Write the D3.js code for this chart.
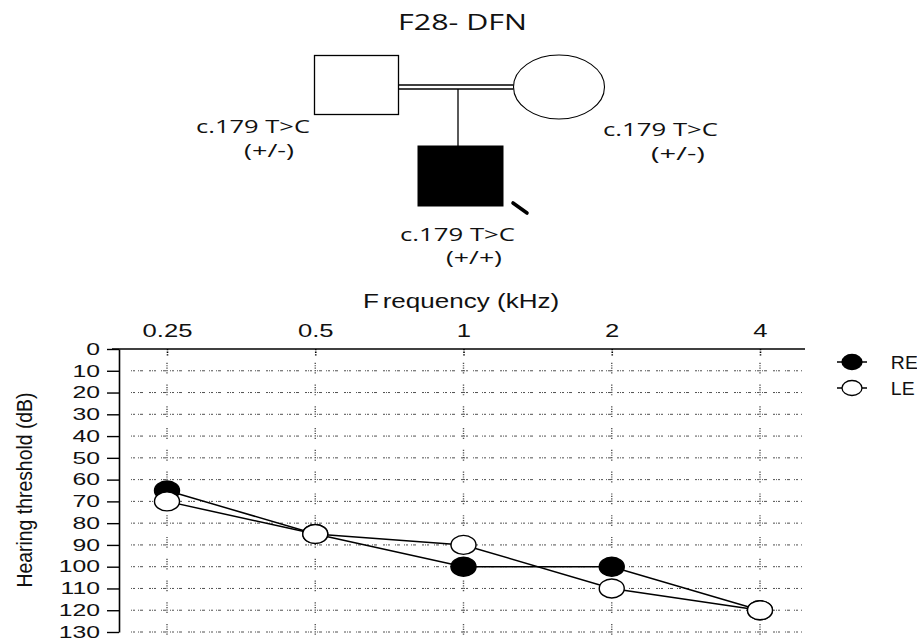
<!DOCTYPE html>
<html>
<head>
<meta charset="utf-8">
<script src="https://cdn.jsdelivr.net/npm/d3@7"></script>
<style>
  body { margin: 0; background: #fff; }
  svg { display: block; }
</style>
</head>
<body>
<svg id="canvas" width="917" height="639"></svg>
<script>
// chart values
let freqs = [0.25, 0.5, 1, 2, 4];
let freqLabels = ["0.25", "0.5", "1", "2", "4"];
let dbTicks = [0, 10, 20, 30, 40, 50, 60, 70, 80, 90, 100, 110, 120, 130];
let rightEar = [65, 85, 100, 100, 120];   // RE, filled
let leftEar = [70, 85, 90, 110, 120];     // LE, open
let legendNames = ["RE", "LE"];

// pedigree texts
let familyTitle = "F28- DFN";
let variant = "c.179 T>C";
let genotypes = ["(+/-)", "(+/-)", "(+/+)"];

let canvas = d3.select('#canvas');
canvas.append("rect").attr("width", 917).attr("height", 639).attr("fill", "#fff");

/* ---------- pedigree ---------- */
let ped = canvas.append("g").attr("fill", "none").attr("stroke", "#000");
let pedFont = "'Open Sans', 'Noto Sans', sans-serif";

ped.append("rect").attr("x", 314.5).attr("y", 55.5).attr("width", 84).attr("height", 59).attr("stroke-width", 1.3);
ped.append("ellipse").attr("cx", 559).attr("cy", 87).attr("rx", 45.5).attr("ry", 32).attr("stroke-width", 1.1);
// consanguineous double line
ped.append("line").attr("x1", 398.5).attr("x2", 513.5).attr("y1", 85).attr("y2", 85).attr("stroke-width", 1.3);
ped.append("line").attr("x1", 398.5).attr("x2", 513.5).attr("y1", 89).attr("y2", 89).attr("stroke-width", 1.3);
ped.append("line").attr("x1", 458).attr("x2", 458).attr("y1", 89).attr("y2", 147).attr("stroke-width", 1.3);
ped.append("rect").attr("x", 418).attr("y", 146).attr("width", 85).attr("height", 60).attr("fill", "#000");
// proband arrow
ped.append("line").attr("x1", 513).attr("y1", 203).attr("x2", 527).attr("y2", 213)
    .attr("stroke-width", 3.6).attr("stroke-linecap", "round");

let pedText = (txt, x, y, w, size) => canvas.append("text")
    .attr("x", x).attr("y", y)
    .attr("font-family", pedFont).attr("font-size", size)
    .attr("textLength", w).attr("lengthAdjust", "spacingAndGlyphs")
    .attr("fill", "#111").text(txt);

pedText(familyTitle, 398, 30, 129, 21);
pedText(variant, 196, 133, 114, 18);
pedText(genotypes[0], 244, 157, 50, 18);
pedText(variant, 603, 136, 115, 17.5);
pedText(genotypes[1], 651, 160, 54, 17.5);
pedText(variant, 400, 241, 115, 18);
pedText(genotypes[2], 446, 264, 56, 18);

/* ---------- audiogram ---------- */
let chartFont = "'Liberation Sans', Arial, sans-serif";

let x = d3.scaleLog().base(2).domain([0.25, 4]).range([167, 760]);
let y = d3.scaleLinear().domain([0, 130]).range([349, 632]);

// dotted grid
let grid = canvas.append("g").attr("stroke", "#333").attr("stroke-width", 1).attr("opacity", 0.85);
grid.selectAll("line.h")
    .data(dbTicks.slice(1))
    .enter()
    .append("line")
    .attr("class", "h")
    .attr("x1", 131).attr("x2", 802)
    .attr("y1", d => y(d)).attr("y2", d => y(d))
    .attr("stroke-dasharray", "1,1,2,3,1,1,3,6,2,1,1,1,2,5,1,1,3,4");

let crossings = [];
freqs.forEach(f => dbTicks.slice(1).forEach(v => crossings.push([f, v])));
grid.selectAll("line.v")
    .data(crossings)
    .enter()
    .append("line")
    .attr("class", "v")
    .attr("x1", d => x(d[0])).attr("x2", d => x(d[0]))
    .attr("y1", d => y(d[1]) - 8).attr("y2", d => y(d[1]) + 3)
    .attr("stroke-width", 1.4)
    .attr("stroke-dasharray", "1.2,1.2");

// left axis (labels drawn wide, like the source)
let yAxis = canvas.append("g")
    .attr("transform", "translate(119,0)")
    .call(d3.axisLeft(y).tickValues(dbTicks).tickSize(12).tickSizeOuter(0).tickPadding(6));
yAxis.select(".domain").attr("stroke-width", 1.6);
yAxis.selectAll(".tick line").attr("stroke-width", 1.4);
yAxis.selectAll("text")
    .attr("x", 0)
    .attr("transform", "translate(-19,0) scale(1.5,1)")
    .attr("font-family", chartFont).attr("font-size", 16.5).attr("fill", "#111");

// top axis
let xAxis = canvas.append("g")
    .attr("transform", "translate(0,349)")
    .call(d3.axisTop(x).tickValues(freqs).tickFormat((d, i) => freqLabels[i])
        .tickSizeInner(-7).tickSizeOuter(0).tickPadding(12));
xAxis.select(".domain").remove();
xAxis.selectAll(".tick line").attr("stroke-width", 1.6).attr("stroke-dasharray", "1.3,1.3");
xAxis.selectAll("text")
    .attr("y", 0)
    .attr("transform", "translate(0,-12) scale(1.35,1)")
    .attr("font-family", chartFont).attr("font-size", 19).attr("fill", "#111");
canvas.append("line")
    .attr("x1", 112).attr("x2", 805).attr("y1", 349).attr("y2", 349)
    .attr("stroke", "#000").attr("stroke-width", 1.6);

// axis titles
let xTitle = canvas.append("text")
    .attr("transform", "translate(363,308) scale(1.27,1)")
    .attr("font-family", chartFont).attr("font-size", 20.5).attr("fill", "#111");
xTitle.append("tspan").text("F");
xTitle.append("tspan").attr("dx", 3).text("requency (kHz)");

canvas.append("text")
    .attr("transform", "translate(32,490) scale(1.2,1) rotate(-90)")
    .attr("text-anchor", "middle")
    .attr("font-family", chartFont).attr("font-size", 19)
    .attr("textLength", 195).attr("lengthAdjust", "spacingAndGlyphs")
    .attr("fill", "#111")
    .text("Hearing threshold (dB)");

// series
let series = [
    { name: legendNames[0], values: rightEar, fill: "#000" },
    { name: legendNames[1], values: leftEar, fill: "#fff" }
];

let line = d3.line()
    .x((d, i) => x(freqs[i]))
    .y(d => y(d));

canvas.selectAll("path.series")
    .data(series)
    .enter()
    .append("path")
    .attr("class", "series")
    .attr("d", d => line(d.values))
    .attr("fill", "none")
    .attr("stroke", "#000")
    .attr("stroke-width", 1.5);

series.forEach(s => {
    canvas.selectAll("ellipse.m" + s.name)
        .data(s.values)
        .enter()
        .append("ellipse")
        .attr("class", "m" + s.name)
        .attr("cx", (d, i) => x(freqs[i]))
        .attr("cy", d => y(d))
        .attr("rx", 12.5).attr("ry", 9.5)
        .attr("fill", s.fill)
        .attr("stroke", "#000")
        .attr("stroke-width", 1.4);
});

// legend
let legend = canvas.selectAll("g.legend")
    .data(series)
    .enter()
    .append("g")
    .attr("class", "legend")
    .attr("transform", (d, i) => "translate(852," + (362 + i * 26) + ")");
legend.append("line").attr("x1", -15).attr("x2", 15).attr("stroke", "#000").attr("stroke-width", 1.5);
legend.append("ellipse").attr("rx", 10).attr("ry", 7.5)
    .attr("fill", d => d.fill).attr("stroke", "#000").attr("stroke-width", 1.3);
legend.append("text")
    .attr("x", 36).attr("y", 6.5)
    .attr("transform", "scale(1.08,1)")
    .attr("font-family", chartFont).attr("font-size", 18).attr("fill", "#111")
    .text(d => d.name);
</script>
</body>
</html>
